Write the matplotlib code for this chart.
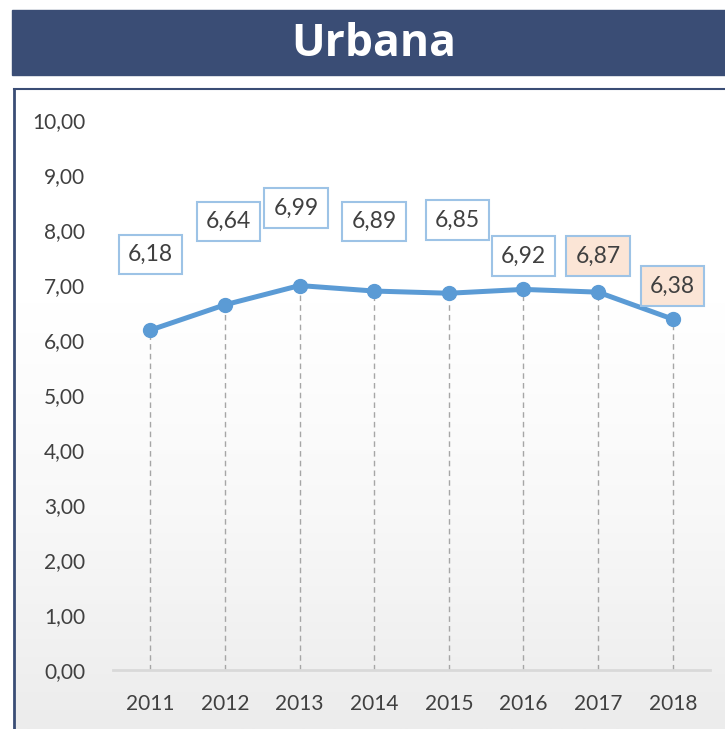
import matplotlib.pyplot as plt
import numpy as np
from matplotlib.patches import Rectangle
from matplotlib.lines import Line2D

# data
years = [2011, 2012, 2013, 2014, 2015, 2016, 2017, 2018]
values = [6.18, 6.64, 6.99, 6.89, 6.85, 6.92, 6.87, 6.38]
labels = ["6,18", "6,64", "6,99", "6,89", "6,85", "6,92", "6,87", "6,38"]
# where the label boxes sit (in y units) and a small x nudge
label_y = [7.55, 8.16, 8.40, 8.15, 8.18, 7.53, 7.53, 6.98]
label_dx = [0.0, 0.05, -0.05, 0.0, 0.12, 0.0, 0.0, 0.0]
highlight = [False, False, False, False, False, False, True, True]
yticks = np.arange(0, 11, 1)
ytick_labels = ["%d,00" % v for v in yticks]

plt.rcParams['font.family'] = ['Lato', 'DejaVu Sans']

fig = plt.figure(figsize=(7.25, 7.29), dpi=100)
fig.patch.set_facecolor("white")

# light gray gradient behind the chart frame
bg = fig.add_axes([14/725, 0, 1 - 14/725, 1 - 89/729])
grad = np.linspace(0, 1, 256).reshape(-1, 1)
bg.imshow(grad, aspect="auto", cmap=plt.matplotlib.colors.LinearSegmentedColormap.from_list(
    "g", ["#ececec", "#f8f8f8", "#ffffff", "#ffffff"]), extent=[0, 1, 0, 1], origin="lower")
bg.axis("off")

# title bar
fig.patches.append(Rectangle((12/725, 1 - 75/729), 1 - 12/725, 65/729,
                             transform=fig.transFigure, color="#3A4D75", zorder=0))
fig.text(374/725, 1 - 44/729, "Urbana", color="white", fontsize=32,
         fontweight="bold", ha="center", va="center", family=['Open Sans', 'DejaVu Sans'])

# frame lines
fig.lines.append(Line2D([14/725, 14/725], [0, 1 - 89/729], transform=fig.transFigure,
                        color="#3A4D75", lw=2))
fig.lines.append(Line2D([14/725, 1], [1 - 89/729, 1 - 89/729], transform=fig.transFigure,
                        color="#3A4D75", lw=1.5))

ax = fig.add_axes([113/725, 1 - 670/729, (710 - 113)/725, (670 - 120)/729])
ax.patch.set_alpha(0)

# dashed drop lines
for x, v in zip(years, values):
    ax.plot([x, x], [0, v], color="#A6A6A6", lw=1, ls=(0, (4, 3)), zorder=1)

ax.plot(years, values, color="#5B9BD5", lw=3.6, marker="o", markersize=10, zorder=3)

for x, ly, dx, t, h in zip(years, label_y, label_dx, labels, highlight):
    ax.text(x + dx, ly, t, ha="center", va="center", fontsize=16.5, color="#404040",
            bbox=dict(boxstyle="square,pad=0.4", fc="#FBE5D6" if h else "white",
                      ec="#9DC3E6", lw=1.5), zorder=4)

ax.set_xlim(2010.5, 2018.5)
ax.set_ylim(0, 10)
ax.set_xticks(years)
ax.set_xticklabels([str(y) for y in years])
ax.set_yticks(yticks)
ax.set_yticklabels(ytick_labels)
ax.tick_params(length=0, labelsize=15, labelcolor="#404040")
ax.tick_params(axis="y", pad=20)
ax.tick_params(axis="x", pad=17)
for s in ["top", "right", "left"]:
    ax.spines[s].set_visible(False)
ax.spines["bottom"].set_color("#D9D9D9")
ax.spines["bottom"].set_linewidth(2)

fig.savefig("out.png", dpi=100)
